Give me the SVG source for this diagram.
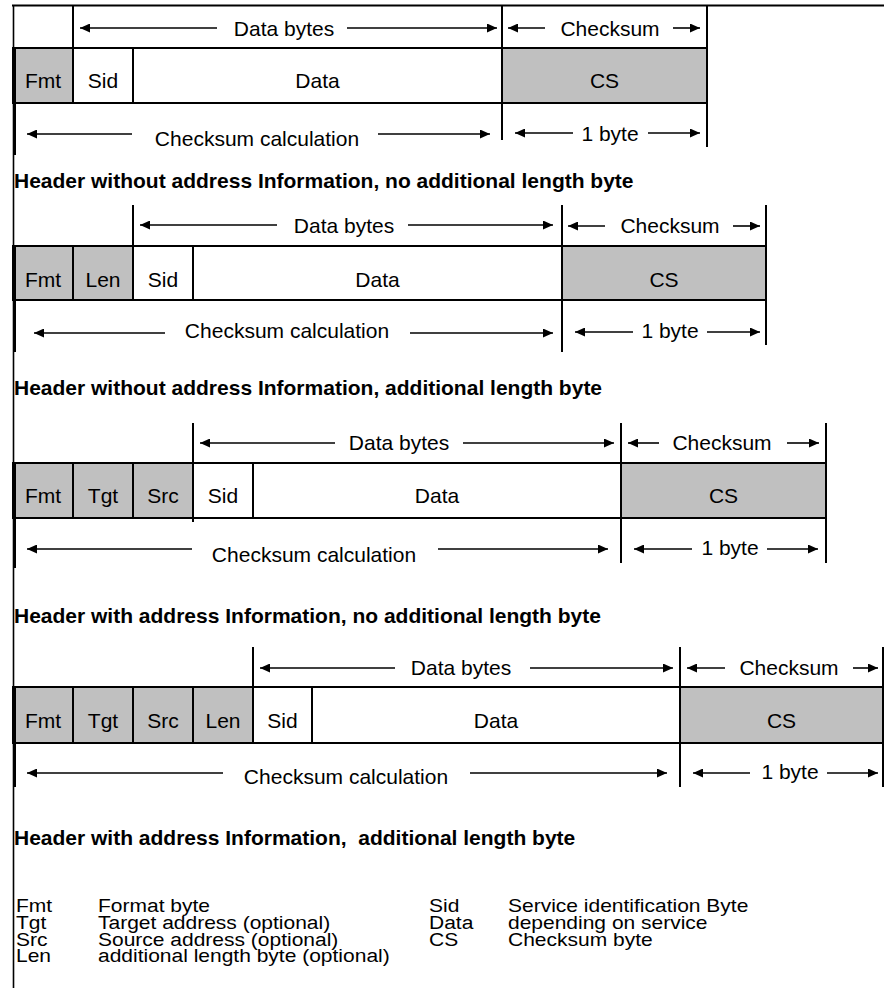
<svg xmlns="http://www.w3.org/2000/svg" width="884" height="988" viewBox="0 0 884 988">
<style>
.cell{stroke:#000;stroke-width:2}
.hd{fill:#c0c0c0}
.dt{fill:#fff}
.t{font-family:"Liberation Sans",Arial,sans-serif;font-size:21px;fill:#000}
.m{text-anchor:middle}
.b{font-weight:bold}
.arr{stroke:#000;stroke-width:1.6;fill:none;marker-end:url(#ah)}
.v{stroke:#000;stroke-width:2;fill:none}
.edge{stroke:#000;stroke-width:3;fill:none}
</style>
<defs>
<marker id="ah" markerUnits="userSpaceOnUse" markerWidth="11" markerHeight="9" refX="10" refY="4.5" orient="auto">
<path d="M0,0 L10,4.5 L0,9 z" fill="#000"/>
</marker>
</defs>
<rect width="884" height="988" fill="#fff"/>

<g id="frame-border">
<line class="v" x1="12" y1="5.5" x2="884" y2="5.5"/>
<line x1="13.5" y1="5" x2="13.5" y2="988" stroke="#000" stroke-width="1.6"/>
</g>

<!-- Section 1 -->
<g id="s1">
<g id="s1-fmt"><rect class="cell hd" x="13" y="48" width="60" height="55"/><text class="t m" x="43" y="88">Fmt</text></g>
<g id="s1-sid"><rect class="cell dt" x="73" y="48" width="60" height="55"/><text class="t m" x="103" y="88">Sid</text></g>
<g id="s1-data"><rect class="cell dt" x="133" y="48" width="369" height="55"/><text class="t m" x="317.5" y="88">Data</text></g>
<g id="s1-cs"><rect class="cell hd" x="502" y="48" width="205" height="55"/><text class="t m" x="604.5" y="88">CS</text></g>
<line class="v" x1="73" y1="6" x2="73" y2="48"/>
<line class="v" x1="502" y1="6" x2="502" y2="140"/>
<line class="v" x1="707" y1="6" x2="707" y2="147"/>
<line class="edge" x1="14.5" y1="47" x2="14.5" y2="155"/>
<text class="t m" x="284" y="35.5">Data bytes</text>
<text class="t m" x="610" y="35.5">Checksum</text>
<text class="t m" x="257" y="146">Checksum calculation</text>
<text class="t m" x="610" y="141">1 byte</text>
<text class="t b" x="14" y="188">Header without address Information, no additional length byte</text>
</g>

<!-- Section 2 -->
<g id="s2">
<g id="s2-fmt"><rect class="cell hd" x="13" y="246" width="60" height="54"/><text class="t m" x="43" y="287">Fmt</text></g>
<g id="s2-len"><rect class="cell hd" x="73" y="246" width="60" height="54"/><text class="t m" x="103" y="287">Len</text></g>
<g id="s2-sid"><rect class="cell dt" x="133" y="246" width="60" height="54"/><text class="t m" x="163" y="287">Sid</text></g>
<g id="s2-data"><rect class="cell dt" x="193" y="246" width="369" height="54"/><text class="t m" x="377.5" y="287">Data</text></g>
<g id="s2-cs"><rect class="cell hd" x="562" y="246" width="204" height="54"/><text class="t m" x="664" y="287">CS</text></g>
<line class="v" x1="133" y1="205" x2="133" y2="246"/>
<line class="v" x1="562" y1="205" x2="562" y2="352"/>
<line class="v" x1="766" y1="205" x2="766" y2="345"/>
<line class="edge" x1="14.5" y1="246" x2="14.5" y2="352"/>
<text class="t m" x="344" y="233">Data bytes</text>
<text class="t m" x="670" y="233">Checksum</text>
<text class="t m" x="287" y="338">Checksum calculation</text>
<text class="t m" x="670" y="338">1 byte</text>
<text class="t b" x="14" y="395">Header without address Information, additional length byte</text>
</g>

<!-- Section 3 -->
<g id="s3">
<g id="s3-fmt"><rect class="cell hd" x="13" y="463" width="60" height="55"/><text class="t m" x="43" y="503">Fmt</text></g>
<g id="s3-tgt"><rect class="cell hd" x="73" y="463" width="60" height="55"/><text class="t m" x="103" y="503">Tgt</text></g>
<g id="s3-src"><rect class="cell hd" x="133" y="463" width="60" height="55"/><text class="t m" x="163" y="503">Src</text></g>
<g id="s3-sid"><rect class="cell dt" x="193" y="463" width="60" height="55"/><text class="t m" x="223" y="503">Sid</text></g>
<g id="s3-data"><rect class="cell dt" x="253" y="463" width="368" height="55"/><text class="t m" x="437" y="503">Data</text></g>
<g id="s3-cs"><rect class="cell hd" x="621" y="463" width="205" height="55"/><text class="t m" x="723.5" y="503">CS</text></g>
<line class="v" x1="193" y1="423" x2="193" y2="522"/>
<line class="v" x1="621" y1="423" x2="621" y2="563"/>
<line class="v" x1="826" y1="423" x2="826" y2="563"/>
<line class="edge" x1="14.5" y1="463" x2="14.5" y2="568"/>
<text class="t m" x="399" y="450">Data bytes</text>
<text class="t m" x="722" y="450">Checksum</text>
<text class="t m" x="314" y="562">Checksum calculation</text>
<text class="t m" x="730" y="555">1 byte</text>
<text class="t b" x="14" y="623">Header with address Information, no additional length byte</text>
</g>

<!-- Section 4 -->
<g id="s4">
<g id="s4-fmt"><rect class="cell hd" x="13" y="687" width="60" height="56"/><text class="t m" x="43" y="728">Fmt</text></g>
<g id="s4-tgt"><rect class="cell hd" x="73" y="687" width="60" height="56"/><text class="t m" x="103" y="728">Tgt</text></g>
<g id="s4-src"><rect class="cell hd" x="133" y="687" width="60" height="56"/><text class="t m" x="163" y="728">Src</text></g>
<g id="s4-len"><rect class="cell hd" x="193" y="687" width="60" height="56"/><text class="t m" x="223" y="728">Len</text></g>
<g id="s4-sid"><rect class="cell dt" x="253" y="687" width="59" height="56"/><text class="t m" x="282.5" y="728">Sid</text></g>
<g id="s4-data"><rect class="cell dt" x="312" y="687" width="368" height="56"/><text class="t m" x="496" y="728">Data</text></g>
<g id="s4-cs"><rect class="cell hd" x="680" y="687" width="203" height="56"/><text class="t m" x="781.5" y="728">CS</text></g>
<line class="v" x1="253" y1="647" x2="253" y2="687"/>
<line class="v" x1="680" y1="647" x2="680" y2="787"/>
<line class="v" x1="883" y1="647" x2="883" y2="787"/>
<line class="edge" x1="14.5" y1="687" x2="14.5" y2="787"/>
<text class="t m" x="461" y="675">Data bytes</text>
<text class="t m" x="789" y="675">Checksum</text>
<text class="t m" x="346" y="784">Checksum calculation</text>
<text class="t m" x="790" y="779">1 byte</text>
<text class="t b" x="14" y="845" style="white-space:pre">Header with address Information,  additional length byte</text>
</g>

<g id="connectors">
<line class="arr" x1="217" y1="28" x2="80" y2="28"/>
<line class="arr" x1="347" y1="28" x2="497" y2="28"/>
<line class="arr" x1="545" y1="28" x2="508" y2="28"/>
<line class="arr" x1="673" y1="28" x2="700" y2="28"/>
<line class="arr" x1="132" y1="134" x2="27" y2="134"/>
<line class="arr" x1="378" y1="134" x2="490" y2="134"/>
<line class="arr" x1="573" y1="133" x2="515" y2="133"/>
<line class="arr" x1="648" y1="133" x2="700" y2="133"/>

<line class="arr" x1="277" y1="225" x2="140" y2="225"/>
<line class="arr" x1="408" y1="225" x2="553" y2="225"/>
<line class="arr" x1="605" y1="226" x2="568" y2="226"/>
<line class="arr" x1="733" y1="226" x2="760" y2="226"/>
<line class="arr" x1="165" y1="333" x2="34" y2="333"/>
<line class="arr" x1="410" y1="333" x2="553" y2="333"/>
<line class="arr" x1="633" y1="332" x2="575" y2="332"/>
<line class="arr" x1="707" y1="332" x2="760" y2="332"/>

<line class="arr" x1="335" y1="443" x2="200" y2="443"/>
<line class="arr" x1="463" y1="443" x2="614" y2="443"/>
<line class="arr" x1="659" y1="443" x2="628" y2="443"/>
<line class="arr" x1="787" y1="443" x2="819" y2="443"/>
<line class="arr" x1="192" y1="549" x2="27" y2="549"/>
<line class="arr" x1="438" y1="549" x2="608" y2="549"/>
<line class="arr" x1="692" y1="549" x2="634" y2="549"/>
<line class="arr" x1="767" y1="549" x2="818" y2="549"/>

<line class="arr" x1="395" y1="668" x2="260" y2="668"/>
<line class="arr" x1="530" y1="668" x2="673" y2="668"/>
<line class="arr" x1="725" y1="668" x2="687" y2="668"/>
<line class="arr" x1="853" y1="668" x2="878" y2="668"/>
<line class="arr" x1="223" y1="773" x2="27" y2="773"/>
<line class="arr" x1="470" y1="773" x2="667" y2="773"/>
<line class="arr" x1="750" y1="773" x2="693" y2="773"/>
<line class="arr" x1="827" y1="773" x2="878" y2="773"/>
</g>

<g id="legend">
<g transform="translate(0,912) scale(1,0.87)">
<text class="t" x="16" y="0">Fmt</text><text class="t" x="98" y="0">Format byte</text>
<text class="t" x="429" y="0">Sid</text><text class="t" x="508" y="0">Service identification Byte</text>
</g>
<g transform="translate(0,929) scale(1,0.87)">
<text class="t" x="16" y="0">Tgt</text><text class="t" x="98" y="0">Target address (optional)</text>
<text class="t" x="429" y="0">Data</text><text class="t" x="508" y="0">depending on service</text>
</g>
<g transform="translate(0,946) scale(1,0.87)">
<text class="t" x="16" y="0">Src</text><text class="t" x="98" y="0">Source address (optional)</text>
<text class="t" x="429" y="0">CS</text><text class="t" x="508" y="0">Checksum byte</text>
</g>
<g transform="translate(0,962) scale(1,0.87)">
<text class="t" x="16" y="0">Len</text><text class="t" x="98" y="0">additional length byte (optional)</text>
</g>
</g>
</svg>
